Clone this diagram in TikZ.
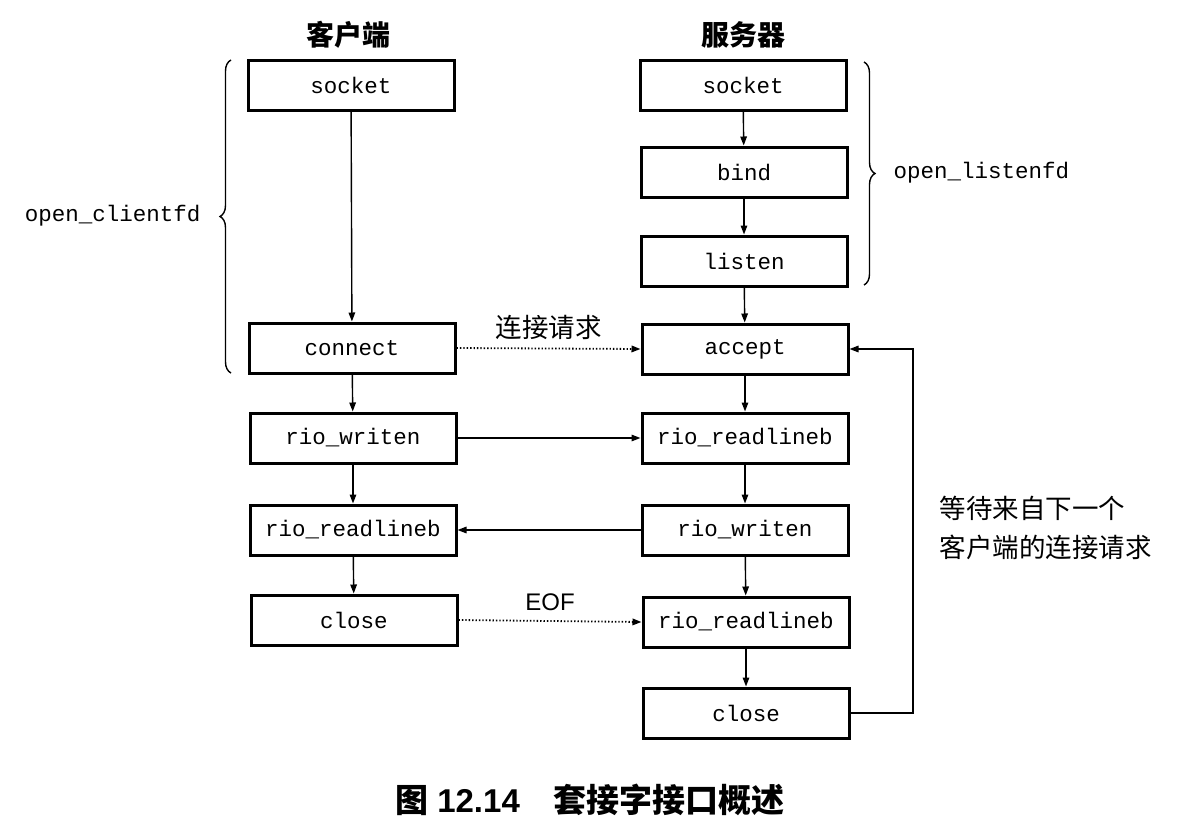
\documentclass[tikz,border=0pt]{standalone}
\usepackage{fontspec}
\setmainfont{Liberation Sans}
\setmonofont{Liberation Mono}
\newfontfamily\cjk{Noto Sans CJK SC}
\usetikzlibrary{arrows.meta,decorations.pathreplacing}
\begin{document}
\begin{tikzpicture}[x=1pt,y=-1pt,
  fnbox/.style={draw,line width=3pt,minimum width=206pt,minimum height=50pt,inner sep=0pt,font=\fontsize{22.5}{24}\selectfont\ttfamily},
  conn/.style={line width=1.4pt,-{Triangle[length=9pt,width=6.5pt]}},
  dotconn/.style={conn,dotted,line width=1.8pt},
  brc/.style={decorate,decoration={brace,amplitude=11pt},line width=1.4pt},
  cjklbl/.style={font=\cjk\fontsize{26.5}{39}\selectfont},
  codelbl/.style={font=\fontsize{22.5}{24}\selectfont\ttfamily}]
\useasboundingbox (0,0) rectangle (1180,835);
% headers
\node[font=\cjk\bfseries\fontsize{28}{30}\selectfont] (hc) at (348,35) {客户端};
\node[font=\cjk\bfseries\fontsize{28}{30}\selectfont] (hs) at (743,35) {服务器};
% client column
\node[fnbox] (csock) at (351,85) {socket};
\node[fnbox] (cconn) at (352,348) {connect};
\node[fnbox] (cwrite) at (353,438) {rio\_writen};
\node[fnbox] (cread) at (353,530) {rio\_readlineb};
\node[fnbox] (cclose) at (354,620) {close};
% server column
\node[fnbox] (ssock) at (743,85) {socket};
\node[fnbox] (sbind) at (744,172) {bind};
\node[fnbox] (slisten) at (744,261) {listen};
\node[fnbox] (saccept) at (745,349) {accept};
\node[fnbox] (sread) at (745,438) {rio\_readlineb};
\node[fnbox] (swrite) at (745,530) {rio\_writen};
\node[fnbox] (sread2) at (746,622) {rio\_readlineb};
\node[fnbox] (sclose) at (746,713) {close};
% vertical arrows
\draw[conn] (csock) -- (cconn);
\draw[conn] (cconn) -- (cwrite);
\draw[conn] (cwrite) -- (cread);
\draw[conn] (cread) -- (cclose);
\draw[conn] (ssock) -- (sbind);
\draw[conn] (sbind) -- (slisten);
\draw[conn] (slisten) -- (saccept);
\draw[conn] (saccept) -- (sread);
\draw[conn] (sread) -- (swrite);
\draw[conn] (swrite) -- (sread2);
\draw[conn] (sread2) -- (sclose);
% horizontal
\draw[dotconn] (cconn.east) -- (saccept.west) node[midway,above=5pt,cjklbl] (lreq) {连接请求};
\draw[conn] (cwrite.east) -- (sread.west);
\draw[conn] (swrite.west) -- (cread.east);
\draw[dotconn] (cclose.east) -- (sread2.west) node[midway,above=6pt,font=\fontsize{24}{26}\selectfont] (leof) {EOF};
% loop back
\coordinate (lp) at (913,713);
\draw[conn] (sclose.east) -- (lp) |- (saccept.east);
\node[cjklbl,align=left,anchor=west] (lwait) at (936,528) {等待来自下一个\\客户端的连接请求};
% braces
\draw[brc] (231,373) -- (231,60);
\node[codelbl,anchor=east] (lcfd) at (204,216) {open\_clientfd};
\draw[brc] (864,62) -- (864,285);
\node[codelbl,anchor=west] (llfd) at (890,173) {open\_listenfd};
% caption
\node[font=\bfseries\fontsize{33}{35}\selectfont] (cap) at (590,800) {{\cjk 图} 12.14\hspace{34pt}{\cjk 套接字接口概述}};
\end{tikzpicture}
\end{document}
